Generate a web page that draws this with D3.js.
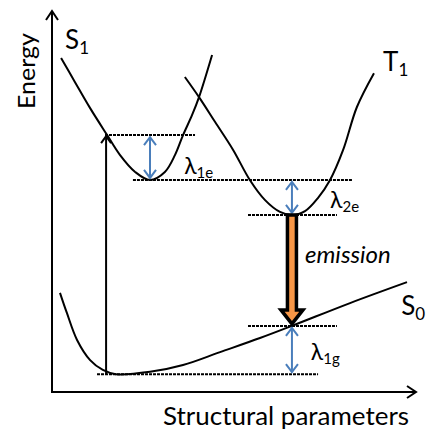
<!DOCTYPE html>
<html>
<head>
<meta charset="utf-8">
<script src="https://cdn.jsdelivr.net/npm/d3@7"></script>
<style>
  body { margin: 0; background: #fff; }
  svg text { font-family: Lato, "Noto Sans", sans-serif; fill: #000; }
</style>
</head>
<body>
<div id="chart"></div>
<script>
// Potential energy curves (structural coordinate, energy), 0-100 units
const s1Curve = [[2.5, 87.9], [6.3, 81.6], [10.5, 74.7], [15.2, 67.6], [18.7, 62.4], [22.9, 57.9],
                 [27.0, 55.8], [31.1, 57.9], [33.9, 62.4], [36.1, 67.6], [38.6, 72.9], [40.5, 77.6], [44.1, 88.7]];
const t1Curve = [[36.6, 82.9], [40.5, 77.6], [44.9, 71.1], [49.9, 63.7], [54.5, 55.8], [58.7, 50.5],
                 [62.8, 47.4], [66.1, 46.6], [69.7, 47.6], [73.3, 51.1], [76.6, 55.8], [80.2, 63.7],
                 [84.0, 75.0], [88.7, 83.9]];
const s0Curve = [[2.2, 26.1], [4.1, 20.8], [6.9, 13.7], [10.5, 8.4], [14.0, 5.8], [17.6, 4.7],
                 [27.0, 5.3], [36.1, 7.1], [46.3, 10.5], [57.3, 14.2], [66.1, 17.4], [82.1, 23.4], [97.8, 28.9]];

// Energy levels (dashed): [energy, from, to]
const levels = [[67.6, 14.6, 39.4], [55.8, 22.3, 82.9], [46.6, 54.0, 78.5], [17.4, 54.0, 78.5], [4.7, 12.4, 73.3]];

// Reorganisation energies (blue double arrows): [x, from, to, name, subscript, labelX, labelY]
const lambdas = [[27.0, 67.6, 55.8, "λ", "1e", 36.4, 57.5],
                 [66.1, 55.8, 46.6, "λ", "2e", 76.6, 48.3],
                 [66.1, 17.4, 4.7, "λ", "1g", 71.3, 8.4]];

// Excitation and emission: [x, fromEnergy, toEnergy]
const excitation = [14.9, 4.7, 67.6];
const emission = [66.1, 46.6, 17.4];

// State labels: [name, subscript, x, y]
const stateLabels = [["S", "1", 3.6, 90.3], ["T", "1", 91.2, 84.5], ["S", "0", 96.2, 20.3]];

const width = 429, height = 432;
const svg = d3.select("#chart").append("svg")
    .attr("width", width)
    .attr("height", height);

const x = d3.scaleLinear().domain([0, 100]).range([52, 415]);
const y = d3.scaleLinear().domain([0, 100]).range([392, 12]);

const line = d3.line()
    .x(d => x(d[0]))
    .y(d => y(d[1]))
    .curve(d3.curveCatmullRom.alpha(0.5));

// chevron head at (px, py) pointing in direction (dx, dy)
function chevron(px, py, dx, dy, len, half) {
    const bx = px - dx * len, by = py - dy * len;
    const nx = -dy, ny = dx;
    return "M" + (bx + nx * half) + "," + (by + ny * half) +
           "L" + px + "," + py +
           "L" + (bx - nx * half) + "," + (by - ny * half);
}

// Axes
const axes = svg.append("g").attr("class", "axes")
    .attr("stroke", "#000").attr("stroke-width", 2).attr("fill", "none");
axes.append("path").attr("d", "M" + x(0) + "," + y(100) + "L" + x(0) + "," + y(0) + "L" + x(100) + "," + y(0));
axes.append("path").attr("d", chevron(x(0), y(100) - 1, 0, -1, 9, 6));
axes.append("path").attr("d", chevron(x(100) + 1, y(0), 1, 0, 9, 6));

svg.append("text")
    .attr("transform", "translate(" + 35 + "," + 71 + ") rotate(-90)")
    .attr("text-anchor", "middle")
    .style("font-size", "24px")
    .attr("textLength", 76)
    .attr("lengthAdjust", "spacingAndGlyphs")
    .text("Energy");

svg.append("text")
    .attr("x", 286).attr("y", 425)
    .attr("text-anchor", "middle")
    .style("font-size", "25px")
    .attr("textLength", 246)
    .attr("lengthAdjust", "spacingAndGlyphs")
    .text("Structural parameters");

// Dashed levels
svg.append("g").selectAll("line").data(levels).join("line")
    .attr("x1", d => x(d[1])).attr("x2", d => x(d[2]))
    .attr("y1", d => y(d[0])).attr("y2", d => y(d[0]))
    .attr("stroke", "#000").attr("stroke-width", 2)
    .attr("stroke-dasharray", "3,1");

// Curves
svg.append("g").selectAll("path").data([s1Curve, t1Curve, s0Curve]).join("path")
    .attr("d", line)
    .attr("fill", "none").attr("stroke", "#000").attr("stroke-width", 2);

// Excitation arrow
const ex = svg.append("g").attr("stroke", "#000").attr("stroke-width", 2).attr("fill", "none");
ex.append("line")
    .attr("x1", x(excitation[0])).attr("x2", x(excitation[0]))
    .attr("y1", y(excitation[1])).attr("y2", y(excitation[2]) + 1);
ex.append("path").attr("d", chevron(x(excitation[0]), y(excitation[2]) + 1, 0, -1, 7, 5));

// Lambda double arrows
const blue = "#4a7ebb";
const lg = svg.append("g").selectAll("g").data(lambdas).join("g");
lg.append("line")
    .attr("x1", d => x(d[0])).attr("x2", d => x(d[0]))
    .attr("y1", d => y(d[1]) + 2).attr("y2", d => y(d[2]) - 2)
    .attr("stroke", blue).attr("stroke-width", 2);
lg.append("path")
    .attr("d", d => chevron(x(d[0]), y(d[1]) + 2, 0, -1, 8, 6) + chevron(x(d[0]), y(d[2]) - 2, 0, 1, 8, 6))
    .attr("stroke", blue).attr("stroke-width", 2).attr("fill", "none");
const lt = lg.append("text")
    .attr("x", d => x(d[5])).attr("y", d => y(d[6]))
    .style("font-size", "23px");
lt.append("tspan").text(d => d[3]);
lt.append("tspan").attr("dy", 4).style("font-size", "15px").text(d => d[4]);

// Emission arrow
const emX = x(emission[0]), emTop = y(emission[1]), emTip = y(emission[2]) - 2;
const shaftHalf = 4.5, headHalf = 11, headLen = 14;
const emPath = "M" + (emX - shaftHalf) + "," + emTop +
    "L" + (emX + shaftHalf) + "," + emTop +
    "L" + (emX + shaftHalf) + "," + (emTip - headLen) +
    "L" + (emX + headHalf) + "," + (emTip - headLen) +
    "L" + emX + "," + emTip +
    "L" + (emX - headHalf) + "," + (emTip - headLen) +
    "L" + (emX - shaftHalf) + "," + (emTip - headLen) + "Z";
svg.append("path").attr("d", emPath)
    .attr("fill", "#f79646").attr("stroke", "#000").attr("stroke-width", 3.5)
    .attr("stroke-linejoin", "miter");

svg.append("text")
    .attr("x", 305).attr("y", 263)
    .style("font-size", "24px").style("font-style", "italic")
    .text("emission");

// State labels
const sl = svg.append("g").selectAll("text").data(stateLabels).join("text")
    .attr("x", d => x(d[2])).attr("y", d => y(d[3]))
    .style("font-size", "26px");
sl.append("tspan").text(d => d[0]);
sl.append("tspan").attr("dy", 5).style("font-size", "17px").text(d => d[1]);
</script>
</body>
</html>
